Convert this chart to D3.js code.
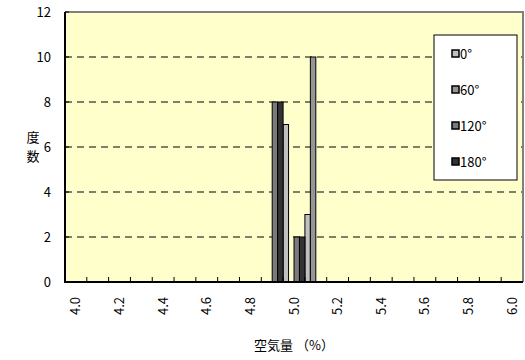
<!DOCTYPE html>
<html lang="ja">
<head>
<meta charset="UTF-8">
<title>空気量 度数分布</title>
<script src="https://d3js.org/d3.v7.min.js"></script>
<style>
    body { margin: 0; padding: 0; background: #fff; }
    svg { display: block; }
    text { font-family: "Noto Sans CJK JP", "Noto Sans", sans-serif; fill: #000; }
</style>
</head>
<body>
<svg id="chart" width="525" height="360"></svg>
<script>
    // categories 4.0 .. 6.0 (0.1 step), labels only every other one
    const categories = ["4.0","4.1","4.2","4.3","4.4","4.5","4.6","4.7","4.8","4.9","5.0",
                        "5.1","5.2","5.3","5.4","5.5","5.6","5.7","5.8","5.9","6.0"];
    const seriesNames = ["0°", "60°", "120°", "180°"];
    const seriesColors = ["#c0c0c0", "#969696", "#7a7a7a", "#333333"];
    // frequency per category, one array per series
    const s0   = [0,0,0,0,0,0,0,0,0,0,7,3,0,0,0,0,0,0,0,0,0];
    const s60  = [0,0,0,0,0,0,0,0,0,0,0,10,0,0,0,0,0,0,0,0,0];
    const s120 = [0,0,0,0,0,0,0,0,0,8,2,0,0,0,0,0,0,0,0,0,0];
    const s180 = [0,0,0,0,0,0,0,0,0,8,2,0,0,0,0,0,0,0,0,0,0];
    const yTicks = [0, 2, 4, 6, 8, 10, 12];

    const series = [s0, s60, s120, s180];
    const svg = d3.select("#chart");
    const plotLeft = 65, plotRight = 523, plotTop = 12, plotBottom = 282;

    const x = d3.scaleBand().domain(categories).range([plotLeft, plotRight]).padding(0);
    const x1 = d3.scaleBand().domain(seriesNames).range([0, x.bandwidth()]).padding(0);
    const y = d3.scaleLinear().domain([0, 12]).range([plotBottom, plotTop]);

    // plot area
    svg.append("rect")
        .attr("x", plotLeft).attr("y", plotTop)
        .attr("width", plotRight - plotLeft).attr("height", plotBottom - plotTop)
        .attr("fill", "#ffffcc");

    // dashed grid
    svg.append("g").selectAll("line")
        .data(yTicks.filter(d => d > 0 && d < 12))
        .enter().append("line")
        .attr("x1", plotLeft).attr("x2", plotRight)
        .attr("y1", d => y(d)).attr("y2", d => y(d))
        .attr("stroke", "#000").attr("stroke-width", 1)
        .attr("stroke-dasharray", "7,5");

    // top / right frame
    svg.append("path")
        .attr("d", `M${plotLeft},${plotTop}H${plotRight}V${plotBottom}`)
        .attr("fill", "none").attr("stroke", "#808080").attr("stroke-width", 2);

    // bars
    const bars = [];
    series.forEach((vals, si) => {
        vals.forEach((v, ci) => {
            if (v > 0) bars.push({ cat: categories[ci], name: seriesNames[si], color: seriesColors[si], value: v });
        });
    });
    svg.append("g").selectAll("rect")
        .data(bars)
        .enter().append("rect")
        .attr("x", d => x(d.cat) + x1(d.name))
        .attr("y", d => y(d.value))
        .attr("width", x1.bandwidth())
        .attr("height", d => y(0) - y(d.value))
        .attr("fill", d => d.color)
        .attr("stroke", "#000").attr("stroke-width", 1);

    // y axis
    const yAxis = svg.append("g")
        .attr("transform", `translate(${plotLeft},0)`)
        .call(d3.axisLeft(y).tickValues(yTicks).tickFormat(d3.format("d")).tickSize(0).tickPadding(14));
    yAxis.select(".domain").remove();
    yAxis.selectAll("text").style("font-size", "13px");
    svg.append("g").selectAll("line")
        .data(yTicks)
        .enter().append("line")
        .attr("x1", plotLeft).attr("x2", plotLeft + 4)
        .attr("y1", d => y(d)).attr("y2", d => y(d))
        .attr("stroke", "#000");

    // x axis: labels every other category
    const xAxis = svg.append("g")
        .attr("transform", `translate(0,${plotBottom})`)
        .call(d3.axisBottom(x).tickValues(categories.filter((d, i) => i % 2 === 0)).tickSize(0));
    xAxis.select(".domain").remove();
    xAxis.selectAll("text")
        .style("font-size", "13px")
        .attr("text-anchor", "end")
        .attr("transform", "translate(0,15) rotate(-90)")
        .attr("x", 0).attr("y", 0).attr("dy", "0.35em");

    // tick marks at category boundaries
    svg.append("g").selectAll("line")
        .data(categories.slice(1))
        .enter().append("line")
        .attr("x1", d => x(d)).attr("x2", d => x(d))
        .attr("y1", plotBottom).attr("y2", plotBottom - 5)
        .attr("stroke", "#000");

    // left / bottom axis lines
    svg.append("path")
        .attr("d", `M${plotLeft},${plotTop}V${plotBottom}H${plotRight}`)
        .attr("fill", "none").attr("stroke", "#000").attr("stroke-width", 2);

    // axis titles
    svg.append("text")
        .attr("x", 294).attr("y", 350)
        .attr("text-anchor", "middle")
        .style("font-size", "13px")
        .text("空気量 （%）");
    const yTitle = svg.append("text")
        .attr("x", 33).attr("y", 142)
        .attr("text-anchor", "middle")
        .style("font-size", "13px");
    yTitle.append("tspan").attr("x", 33).text("度");
    yTitle.append("tspan").attr("x", 33).attr("dy", "1.45em").text("数");

    // legend
    const legend = svg.append("g").attr("transform", "translate(434,35)");
    legend.append("rect")
        .attr("width", 83).attr("height", 145)
        .attr("fill", "#fff").attr("stroke", "#000").attr("stroke-width", 1);
    const item = legend.selectAll("g.item")
        .data(seriesNames)
        .enter().append("g")
        .attr("class", "item")
        .attr("transform", (d, i) => `translate(18,${19 + i * 36})`);
    item.append("rect")
        .attr("x", 0).attr("y", -4)
        .attr("width", 7).attr("height", 7)
        .attr("fill", (d, i) => seriesColors[i])
        .attr("stroke", "#000").attr("stroke-width", 1.5);
    item.append("text")
        .attr("x", 8).attr("dy", "0.35em")
        .style("font-size", "13px")
        .text(d => d);
</script>
</body>
</html>
